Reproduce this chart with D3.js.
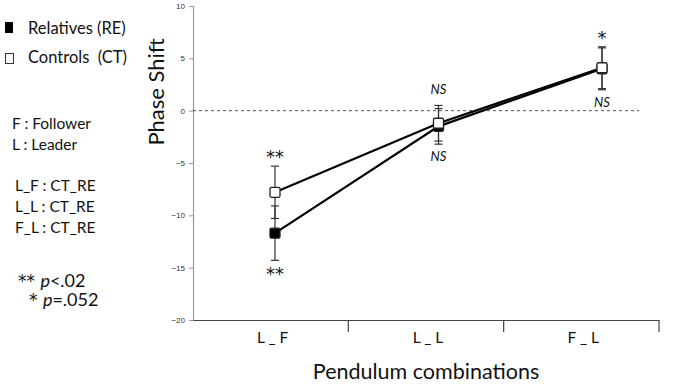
<!DOCTYPE html>
<html>
<head>
<meta charset="utf-8">
<script src="https://cdn.jsdelivr.net/npm/d3@7"></script>
<style>
  body { margin: 0; background: #fff; }
  svg { display: block; }
  .note { font-family: Lato, "Open Sans", sans-serif; fill: #111; }
  .tick text { font-family: "Liberation Sans", Arial, sans-serif; }
</style>
</head>
<body>
<div id="chart"></div>
<script>
// pendulum phase shift chart
const categories = ['L _ F', 'L _ L', 'F _ L'];
const yTicks = [10, 5, 0, -5, -10, -15, -20];

const relatives = [-11.7, -1.5, 4.0];   // RE, black squares
const relativesErr = [2.6, 1.7, 2.0];
const controls = [-7.8, -1.2, 4.1];     // CT, white squares
const controlsErr = [2.5, 1.7, 2.0];

const sigAbove = ['**', 'NS', '*'];
const sigBelow = ['**', 'NS', 'NS'];

const width = 686, height = 385;
const margin = {top: 6, right: 27, bottom: 65, left: 193};

const svg = d3.select('#chart').append('svg')
  .attr('width', width).attr('height', height);

const scaleX = d3.scaleBand(categories, [margin.left, width - margin.right]);
// markers sit on their own point scale (shifted like the original)
const scaleP = d3.scalePoint(categories, [margin.left + 82, width - margin.right - 57]);
const scaleY = d3.scaleLinear([-20, 10], [height - margin.bottom, margin.top]);

// y axis
const axisY = svg.append('g')
  .attr('transform', `translate(${margin.left},0)`)
  .call(d3.axisLeft(scaleY).tickValues(yTicks).tickSize(4).tickPadding(4));
axisY.select('.domain').attr('stroke', '#9a9a9a').attr('stroke-width', 1.2);
axisY.selectAll('.tick line').attr('stroke', '#9a9a9a');
axisY.selectAll('.tick text').attr('font-size', 8).attr('fill', '#333');

// x axis
const axisX = svg.append('g')
  .attr('transform', `translate(0,${height - margin.bottom})`)
  .call(d3.axisBottom(scaleX).tickSize(0).tickPadding(0));
axisX.select('.domain').attr('stroke', '#444').attr('stroke-width', 1.2);
axisX.selectAll('.tick text').remove();
axisX.selectAll('.sep')
  .data(categories)
  .join('line')
  .attr('x1', d => scaleX(d) + scaleX.bandwidth())
  .attr('x2', d => scaleX(d) + scaleX.bandwidth())
  .attr('y1', 0).attr('y2', 12)
  .attr('stroke', '#444').attr('stroke-width', 1.2);
axisX.selectAll('.cat')
  .data(categories)
  .join('text')
  .attr('class', 'note')
  .attr('x', d => scaleX(d) + scaleX.bandwidth() / 2 + 2)
  .attr('y', 23)
  .attr('text-anchor', 'middle')
  .attr('font-size', 15.5)
  .text(d => d);

// zero reference line
svg.append('line')
  .attr('x1', margin.left).attr('x2', width - margin.right - 20)
  .attr('y1', scaleY(0)).attr('y2', scaleY(0))
  .attr('stroke', '#555').attr('stroke-width', 1)
  .attr('stroke-dasharray', '3,3');

// axis labels
svg.append('text').attr('class', 'note')
  .attr('transform', `translate(164,${scaleY(1.8)})rotate(-90)`)
  .attr('text-anchor', 'middle')
  .attr('font-family', '"Liberation Sans", Arial, sans-serif')
  .attr('font-size', 22)
  .text('Phase Shift');
svg.append('text').attr('class', 'note')
  .attr('x', 426).attr('y', 379)
  .attr('text-anchor', 'middle')
  .attr('font-size', 21.5)
  .text('Pendulum combinations');

// error bars, lines, markers
const series = [
  {vals: relatives, err: relativesErr, fill: '#000'},
  {vals: controls, err: controlsErr, fill: '#fff'}
];
const line = d3.line().x((d, i) => scaleP(categories[i])).y(d => scaleY(d));

series.forEach(s => {
  const g = svg.append('g');
  s.vals.forEach((v, i) => {
    const x = scaleP(categories[i]);
    const y0 = scaleY(v - s.err[i]), y1 = scaleY(v + s.err[i]);
    g.append('line').attr('x1', x).attr('x2', x).attr('y1', y0).attr('y2', y1)
      .attr('stroke', '#333').attr('stroke-width', 1.2);
    [y0, y1].forEach(yy => g.append('line')
      .attr('x1', x - 4).attr('x2', x + 4).attr('y1', yy).attr('y2', yy)
      .attr('stroke', '#333').attr('stroke-width', 1.2));
  });
});
series.forEach(s => {
  svg.append('path').datum(s.vals)
    .attr('d', line)
    .attr('fill', 'none').attr('stroke', '#000').attr('stroke-width', 2.2);
});
series.forEach(s => {
  svg.selectAll(null).data(s.vals).join('rect')
    .attr('x', (d, i) => scaleP(categories[i]) - 5)
    .attr('y', d => scaleY(d) - 5)
    .attr('width', 10).attr('height', 10)
    .attr('rx', 1.5)
    .attr('fill', s.fill).attr('stroke', '#222').attr('stroke-width', 1.3);
});

// significance marks
const upper = categories.map((c, i) => Math.max(relatives[i] + relativesErr[i], controls[i] + controlsErr[i]));
const lower = categories.map((c, i) => Math.min(relatives[i] - relativesErr[i], controls[i] - controlsErr[i]));
const sigFont = d => d === 'NS' ? 'Lato, sans-serif' : '"DejaVu Sans", sans-serif';
svg.selectAll('.sigA').data(sigAbove).join('text')
  .attr('class', 'note')
  .attr('x', (d, i) => scaleP(categories[i]))
  .attr('y', (d, i) => scaleY(upper[i]) - (d === 'NS' ? 11 : 3))
  .attr('text-anchor', 'middle')
  .attr('font-size', d => d === 'NS' ? 13 : 18)
  .attr('font-style', d => d === 'NS' ? 'italic' : 'normal')
  .style('font-family', sigFont)
  .text(d => d);
svg.selectAll('.sigB').data(sigBelow).join('text')
  .attr('class', 'note')
  .attr('x', (d, i) => scaleP(categories[i]))
  .attr('y', (d, i) => scaleY(lower[i]) + (d === 'NS' ? 17 : 20))
  .attr('text-anchor', 'middle')
  .attr('font-size', d => d === 'NS' ? 13 : 18)
  .attr('font-style', d => d === 'NS' ? 'italic' : 'normal')
  .style('font-family', sigFont)
  .text(d => d);

// legend and notes on the left
svg.append('rect').attr('x', 5).attr('y', 22).attr('width', 8).attr('height', 11).attr('fill', '#000');
svg.append('rect').attr('x', 5.5).attr('y', 53.5).attr('width', 8).attr('height', 10)
  .attr('fill', '#fff').attr('stroke', '#333').attr('stroke-width', 1);
const notes = [
  {t: 'Relatives (RE)', x: 28, y: 34, s: 16.5},
  {t: 'Controls  (CT)', x: 28, y: 63, s: 16.5},
  {t: 'F : Follower', x: 12, y: 129, s: 15.5},
  {t: 'L : Leader', x: 12, y: 150, s: 15.5},
  {t: 'L_F : CT_RE', x: 15, y: 191, s: 15.5},
  {t: 'L_L : CT_RE', x: 15, y: 212, s: 15.5},
  {t: 'F_L : CT_RE', x: 15, y: 233, s: 15.5}
];
svg.selectAll('.ln').data(notes).join('text')
  .attr('class', 'note')
  .attr('x', d => d.x).attr('y', d => d.y)
  .attr('font-size', d => d.s)
  .attr('xml:space', 'preserve')
  .style('white-space', 'pre')
  .text(d => d.t);

const p1 = svg.append('text').attr('class', 'note').attr('x', 18).attr('y', 287).attr('font-size', 18);
p1.append('tspan').attr('font-family', '"DejaVu Sans", sans-serif').attr('font-size', 17).text('** ');
p1.append('tspan').attr('font-style', 'italic').text('p');
p1.append('tspan').text('<.02');
const p2 = svg.append('text').attr('class', 'note').attr('x', 29).attr('y', 306).attr('font-size', 18);
p2.append('tspan').attr('font-family', '"DejaVu Sans", sans-serif').attr('font-size', 17).text('* ');
p2.append('tspan').attr('font-style', 'italic').text('p');
p2.append('tspan').text('=.052');
</script>
</body>
</html>
